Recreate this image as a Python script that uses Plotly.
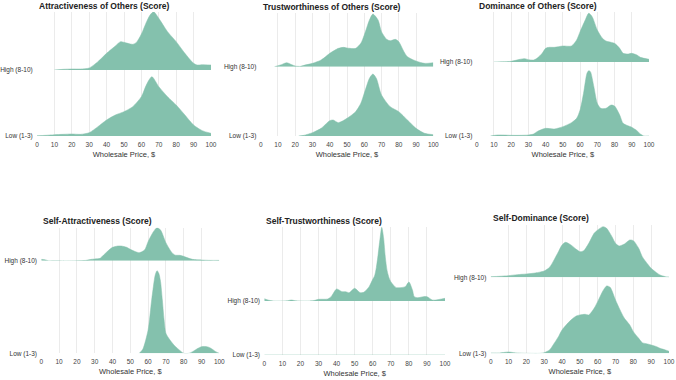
import plotly.graph_objects as go

W, H = 676, 380

# ---------------- data (relative density) ----------------
panel_titles = ["Attractiveness of Others (Score)", "Trustworthiness of Others (Score)",
                "Dominance of Others (Score)", "Self-Attractiveness (Score)",
                "Self-Trustworthiness (Score)", "Self-Dominance (Score)"]
row_labels = ["High (8-10)", "Low (1-3)"]
x_ticks = [0, 10, 20, 30, 40, 50, 60, 70, 80, 90, 100]
x_title = "Wholesale Price, $"

attr_others_high_x = [10, 15, 20, 25, 30, 35, 40, 45, 48, 50, 55, 57, 60, 63, 65, 67, 70, 75, 80, 85, 90, 92, 95, 100]
attr_others_high_y = [0, 2, 3, 3, 6, 25, 50, 72, 85, 83, 77, 82, 108, 145, 165, 175, 155, 115, 85, 50, 20, 15, 16, 15]
attr_others_low_x = [0, 5, 10, 15, 20, 25, 30, 35, 40, 45, 50, 55, 60, 63, 66, 70, 75, 80, 85, 90, 95, 100]
attr_others_low_y = [1, 2, 4, 5, 6, 5, 10, 28, 48, 63, 73, 88, 118, 155, 178, 148, 118, 93, 63, 33, 16, 8]

trust_others_high_x = [8, 12, 15, 18, 20, 23, 25, 30, 35, 40, 45, 48, 50, 55, 58, 60, 63, 65, 68, 70, 73, 75, 78, 80, 83, 85, 90, 95, 100]
trust_others_high_y = [0, 6, 12, 6, 2, 1, 4, 10, 20, 40, 55, 58, 56, 55, 70, 95, 140, 158, 140, 105, 82, 78, 82, 75, 45, 30, 17, 10, 12]
trust_others_low_x = [22, 25, 30, 35, 40, 42, 45, 50, 55, 58, 60, 63, 65, 67, 70, 75, 80, 85, 90, 95, 100]
trust_others_low_y = [0, 2, 10, 23, 46, 48, 40, 53, 73, 98, 128, 173, 186, 173, 123, 88, 73, 48, 23, 8, 4]

dom_others_high_x = [10, 15, 20, 25, 28, 30, 33, 35, 38, 40, 42, 45, 50, 55, 58, 60, 63, 65, 67, 70, 73, 75, 80, 83, 85, 88, 90, 93, 95, 100]
dom_others_high_y = [0, 1, 2, 8, 10, 7, 6, 11, 26, 41, 44, 44, 48, 48, 66, 91, 126, 146, 136, 96, 71, 63, 56, 41, 26, 24, 26, 21, 14, 8]
dom_others_low_x = [8, 12, 15, 20, 25, 30, 33, 35, 38, 40, 45, 50, 55, 58, 60, 62, 64, 65, 66, 68, 70, 72, 75, 78, 80, 83, 85, 90, 93, 95, 97, 100]
dom_others_low_y = [0, 3, 3, 2, 2, 3, 6, 13, 20, 23, 21, 28, 40, 53, 78, 128, 188, 196, 193, 148, 98, 83, 83, 93, 90, 63, 38, 26, 16, 6, 0, 0]

self_attr_high_x = [0, 2, 4, 25, 28, 30, 33, 35, 38, 40, 43, 45, 48, 50, 53, 55, 58, 60, 63, 65, 67, 70, 73, 75, 78, 80, 83, 85, 90, 95, 100]
self_attr_high_y = [4, 3, 0, 1, 4, 5, 7, 17, 32, 40, 44, 44, 40, 34, 27, 24, 32, 57, 87, 99, 92, 54, 27, 17, 16, 13, 7, 4, 2, 1, 1]
self_attr_low_x = [55, 57, 60, 62, 64, 65, 66, 67, 68, 69, 70, 72, 75, 78, 80, 83, 85, 88, 90, 93, 95, 98, 100]
self_attr_low_y = [0, 12, 70, 160, 235, 248, 240, 215, 160, 100, 60, 42, 22, 8, 0, 0, 5, 15, 20, 20, 16, 5, 0]

self_trust_high_x = [0, 2, 5, 10, 13, 15, 17, 20, 25, 28, 30, 35, 37, 40, 43, 45, 47, 50, 53, 55, 58, 60, 61, 62, 63, 64, 65, 66, 67, 68, 69, 70, 73, 75, 78, 80, 82, 83, 85, 88, 90, 93, 95, 98, 100]
self_trust_high_y = [7, 3, 0, 0, 1, 3, 1, 0, 0, 2, 5, 6, 13, 36, 28, 28, 25, 38, 25, 26, 43, 65, 75, 100, 140, 185, 221, 190, 130, 90, 70, 58, 40, 40, 43, 57, 33, 13, 10, 13, 13, 3, 3, 6, 8]
self_trust_low_x = [0, 100]
self_trust_low_y = [0, 0]

self_dom_high_x = [0, 5, 10, 15, 20, 25, 30, 33, 35, 38, 40, 42, 45, 48, 50, 52, 55, 58, 60, 63, 65, 68, 70, 72, 75, 78, 80, 83, 85, 88, 90, 93, 95, 98, 100]
self_dom_high_y = [2, 3, 5, 8, 10, 13, 19, 30, 47, 77, 97, 105, 97, 84, 77, 79, 102, 132, 142, 152, 147, 122, 102, 94, 100, 112, 110, 87, 62, 40, 27, 14, 7, 2, 1]
self_dom_low_x = [0, 5, 8, 10, 13, 15, 20, 28, 30, 33, 35, 38, 40, 45, 48, 50, 53, 55, 58, 60, 63, 65, 67, 70, 73, 75, 78, 80, 83, 85, 88, 90, 93, 95, 98, 100]
self_dom_low_y = [1, 1, 3, 4, 2, 1, 0, 0, 2, 10, 25, 50, 70, 100, 112, 115, 117, 115, 135, 155, 188, 202, 198, 160, 125, 105, 85, 65, 45, 32, 28, 25, 20, 15, 10, 6]

series = [
    (attr_others_high_x, attr_others_high_y, attr_others_low_x, attr_others_low_y),
    (trust_others_high_x, trust_others_high_y, trust_others_low_x, trust_others_low_y),
    (dom_others_high_x, dom_others_high_y, dom_others_low_x, dom_others_low_y),
    (self_attr_high_x, self_attr_high_y, self_attr_low_x, self_attr_low_y),
    (self_trust_high_x, self_trust_high_y, self_trust_low_x, self_trust_low_y),
    (self_dom_high_x, self_dom_high_y, self_dom_low_x, self_dom_low_y),
]

# ---------------- layout geometry (pixels) ----------------
panel_x = [(37, 211), (260.7, 433.3), (476.7, 649), (41.3, 219.3), (264.3, 445), (490.7, 669)]
panel_y = [(12, 70, 136), (13, 66.7, 136), (12, 62, 136),
           (227.7, 260.7, 353.3), (227, 301, 355), (225, 277.3, 353.3)]
SCALE = 3.0  # density units per pixel

FILL = "#84c1ad"
GRID = "#ebebeb"
FONT = "Liberation Sans, Arial, sans-serif"

fig = go.Figure()
layout = {}
annotations = []

def fy(py):
    return 1 - py / H

for i, (hx, hy, lx, ly) in enumerate(series):
    xi = i + 1
    yh = 2 * i + 1
    yl = 2 * i + 2
    xname = "x" if xi == 1 else f"x{xi}"
    yhname = "y" if yh == 1 else f"y{yh}"
    ylname = f"y{yl}"
    x0, x1 = panel_x[i]
    top, hb, lb = panel_y[i]

    for xs, ys, yname in ((hx, hy, yhname), (lx, ly, ylname)):
        fig.add_trace(go.Scatter(
            x=xs, y=ys, xaxis=xname, yaxis=yname,
            mode="lines", line=dict(color=FILL, width=0.5, shape="spline", smoothing=0.7),
            fill="tozeroy", fillcolor=FILL, hoverinfo="skip", showlegend=False))

    xkey = "xaxis" if xi == 1 else f"xaxis{xi}"
    layout[xkey] = dict(
        domain=[x0 / W, x1 / W], range=[0, 100], anchor=ylname, automargin=False,
        tickvals=x_ticks, ticktext=[str(t) for t in x_ticks],
        showgrid=True, gridcolor=GRID, gridwidth=1, zeroline=False,
        showline=False, ticks="outside", ticklen=2, tickcolor="rgba(0,0,0,0)",
        tickfont=dict(size=6.5, color="#444", family=FONT),
        title=dict(text=x_title, font=dict(size=7.5, color="#333", family=FONT), standoff=4),
        fixedrange=True)
    for yname, yidx, (a, b), lab in ((yhname, yh, (top, hb), row_labels[0]),
                                       (ylname, yl, (hb, lb), row_labels[1])):
        ykey = "yaxis" if yidx == 1 else f"yaxis{yidx}"
        layout[ykey] = dict(
            domain=[fy(b), fy(a)], range=[0, (b - a) * SCALE], anchor=xname, automargin=False,
            tickvals=[0], ticktext=[lab], showgrid=False, zeroline=False, showline=False,
            ticks="outside", ticklen=2, tickcolor="rgba(0,0,0,0)",
            tickfont=dict(size=6.5, color="#333", family=FONT), fixedrange=True)

    annotations.append(dict(
        text="<b>" + panel_titles[i] + "</b>", x=x0 / W, y=fy(top - 6 if i < 3 else top - 6.5),
        xref="paper", yref="paper", xanchor="left", yanchor="middle", showarrow=False,
        font=dict(size=8.5, color="#222", family=FONT)))

fig.update_layout(
    width=W, height=H, margin=dict(l=0, r=0, t=0, b=0, autoexpand=False),
    paper_bgcolor="white", plot_bgcolor="white",
    font=dict(family=FONT), annotations=annotations, **layout)

fig.write_html("out.html", config={"displayModeBar": False},
               post_script="document.body.style.margin='0';")
